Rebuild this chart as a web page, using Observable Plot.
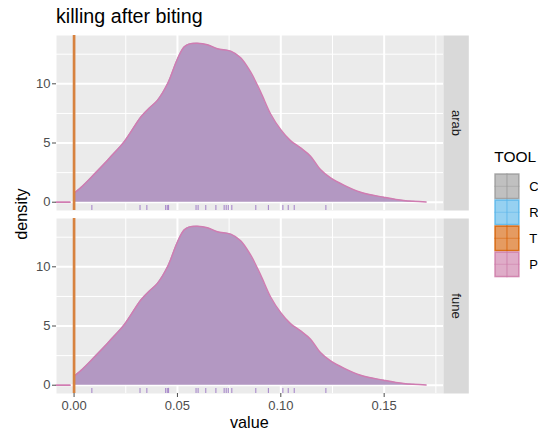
<!DOCTYPE html>
<html>
<head>
<meta charset="utf-8">
<script src="https://cdn.jsdelivr.net/npm/d3@7"></script>
<script src="https://cdn.jsdelivr.net/npm/@observablehq/plot@0.6"></script>
<style>
  body { margin: 0; background: white; }
  #wrap { position: relative; width: 538px; height: 435px; overflow: hidden; background: white; }
  #chart { position: absolute; left: 0; top: 30px; }
  #overlay { position: absolute; left: 0; top: 0; pointer-events: none; }
</style>
</head>
<body>
<div id="wrap">
  <div id="chart"></div>
  <svg id="overlay" width="538" height="435"></svg>
</div>
<script>
// ---- data ----
const facets = ["arab", "fune"];
const tools = ["C", "R", "T", "P"];
const toolColors = ["#999999", "#56B4E9", "#D55E00", "#CC79A7"];

// density of P (value, density)
const densityX = [0, 0.004, 0.008, 0.0146, 0.0178, 0.0242, 0.0323, 0.0363, 0.0403, 0.0452, 0.050, 0.0532, 0.0555, 0.0597, 0.0645, 0.0693, 0.0758, 0.0806, 0.0854, 0.0903, 0.0951, 0.0999, 0.1047, 0.1096, 0.1144, 0.1192, 0.1241, 0.1305, 0.1386, 0.1498, 0.1594, 0.1703];
const densityY = [0.76, 1.35, 2.05, 3.24, 3.86, 5.1, 7.2, 7.94, 8.6, 10.0, 12.1, 13.1, 13.35, 13.42, 13.3, 12.96, 12.76, 12.2, 11.0, 9.3, 7.45, 6.15, 5.2, 4.59, 3.89, 2.76, 2.05, 1.44, 0.84, 0.42, 0.14, 0.02];

// short line left of zero
const leftLineX = [-0.0085, -0.002];
const leftLineY = [0, 0];

// rug values
const rugX = [0.0086, 0.0319, 0.0352, 0.0443, 0.0451, 0.0457, 0.0590, 0.0600, 0.0637, 0.0686, 0.0726, 0.0736, 0.0746, 0.0763, 0.0879, 0.0940, 0.1010, 0.1036, 0.1065, 0.1218];

// T values (all at zero)
const vlineX = [0];

// ticks
const xMajor = [0, 0.05, 0.10, 0.15];
const xMinor = [0.025, 0.075, 0.125, 0.175];
const yMajor = [0, 5, 10];
const yMinor = [2.5, 7.5, 12.5];

// ---- tables ----
const densRows = facets.flatMap(f => densityX.map((x, i) => ({fy: f, x, y: densityY[i]})));
const leftRows = facets.flatMap(f => leftLineX.map((x, i) => ({fy: f, x, y: leftLineY[i]})));
const rugRows = facets.flatMap(f => rugX.map(x => ({fy: f, x})));
const vRows = facets.flatMap(f => vlineX.map(x => ({fy: f, x})));

const font = "'Liberation Sans', Arial, sans-serif";

const chart = Plot.plot({
  width: 538,
  height: 405,
  marginLeft: 56,
  marginRight: 95,
  marginTop: 5,
  marginBottom: 42,
  style: {fontFamily: font, fontSize: "13px", background: "white", overflow: "visible"},
  x: {domain: [-0.0085, 0.1787]},
  y: {domain: [-0.70, 14.08]},
  fy: {domain: facets, axis: null, paddingInner: 0.045, paddingOuter: 0},
  marks: [
    Plot.frame({fill: "#EBEBEB"}),
    Plot.ruleX(xMinor, {stroke: "white", strokeWidth: 1}),
    Plot.ruleY(yMinor, {stroke: "white", strokeWidth: 1}),
    Plot.ruleX(xMajor, {stroke: "white", strokeWidth: 2}),
    Plot.ruleY(yMajor, {stroke: "white", strokeWidth: 2}),
    Plot.frame({fill: "#D9D9D9", insetLeft: 387, insetRight: -25.3}),
    Plot.text(facets, {fy: d => d, text: d => d, frameAnchor: "right", dx: 12.7, rotate: 90,
      textAnchor: "middle", lineAnchor: "middle", fontSize: 13, fill: "#1A1A1A"}),
    Plot.areaY(densRows, {x: "x", y: "y", fy: "fy", fill: "#B398C2", curve: "catmull-rom"}),
    Plot.line(densRows, {x: "x", y: "y", fy: "fy", stroke: "#D07CB1", strokeWidth: 1.4, curve: "catmull-rom"}),
    Plot.line(leftRows, {x: "x", y: "y", fy: "fy", stroke: "#D07CB1", strokeWidth: 1.8}),
    Plot.ruleX(rugRows, {x: "x", fy: "fy", y1: -0.27, y2: -0.70, stroke: "#A98ACB", strokeWidth: 1.1}),
    Plot.ruleX(vRows, {x: "x", fy: "fy", stroke: "#D7823F", strokeWidth: 2.7}),
    Plot.axisX({ticks: xMajor, tickFormat: d3.format(".2f"), tickSize: 4, tickPadding: 3, color: "#4D4D4D", label: null}),
    Plot.axisY({ticks: yMajor, tickSize: 4, tickPadding: 2, color: "#4D4D4D", label: null})
  ]
});
document.getElementById("chart").appendChild(chart);

// ---- overlay: title, axis titles, legend ----
const ov = d3.select("#overlay").style("font-family", font);
ov.append("text").attr("x", 56).attr("y", 22.7).attr("font-size", 19.7).attr("fill", "black").text("killing after biting");
ov.append("text").attr("x", 249.3).attr("y", 428.3).attr("text-anchor", "middle").attr("font-size", 16.2).attr("fill", "black").text("value");
ov.append("text").attr("transform", "translate(26.5,214) rotate(-90)").attr("text-anchor", "middle").attr("font-size", 16.2).attr("fill", "black").text("density");

ov.append("text").attr("x", 494.3).attr("y", 161.7).attr("font-size", 15.5).attr("fill", "black").text("TOOL");
const keyX = 494.3, keyY0 = 173.3, keyW = 25.3, keyH = 26;
tools.forEach((t, i) => {
  const y = keyY0 + i * keyH;
  const c = toolColors[i];
  const g = ov.append("g");
  g.append("rect").attr("x", keyX + 0.75).attr("y", y + 0.75).attr("width", keyW - 1.5).attr("height", keyH - 1.5)
    .attr("fill", c).attr("fill-opacity", 0.62).attr("stroke", c).attr("stroke-opacity", 0.85).attr("stroke-width", 1.5);
  g.append("line").attr("x1", keyX + keyW / 2).attr("x2", keyX + keyW / 2).attr("y1", y).attr("y2", y + keyH)
    .attr("stroke", c).attr("stroke-opacity", 0.6).attr("stroke-width", 1.3);
  g.append("line").attr("x1", keyX).attr("x2", keyX + keyW).attr("y1", y + keyH / 2).attr("y2", y + keyH / 2)
    .attr("stroke", c).attr("stroke-opacity", 0.45).attr("stroke-width", 1.1);
  ov.append("text").attr("x", 529.3).attr("y", y + keyH / 2).attr("dy", "0.35em").attr("font-size", 13).attr("fill", "black").text(t);
});
</script>
</body>
</html>
